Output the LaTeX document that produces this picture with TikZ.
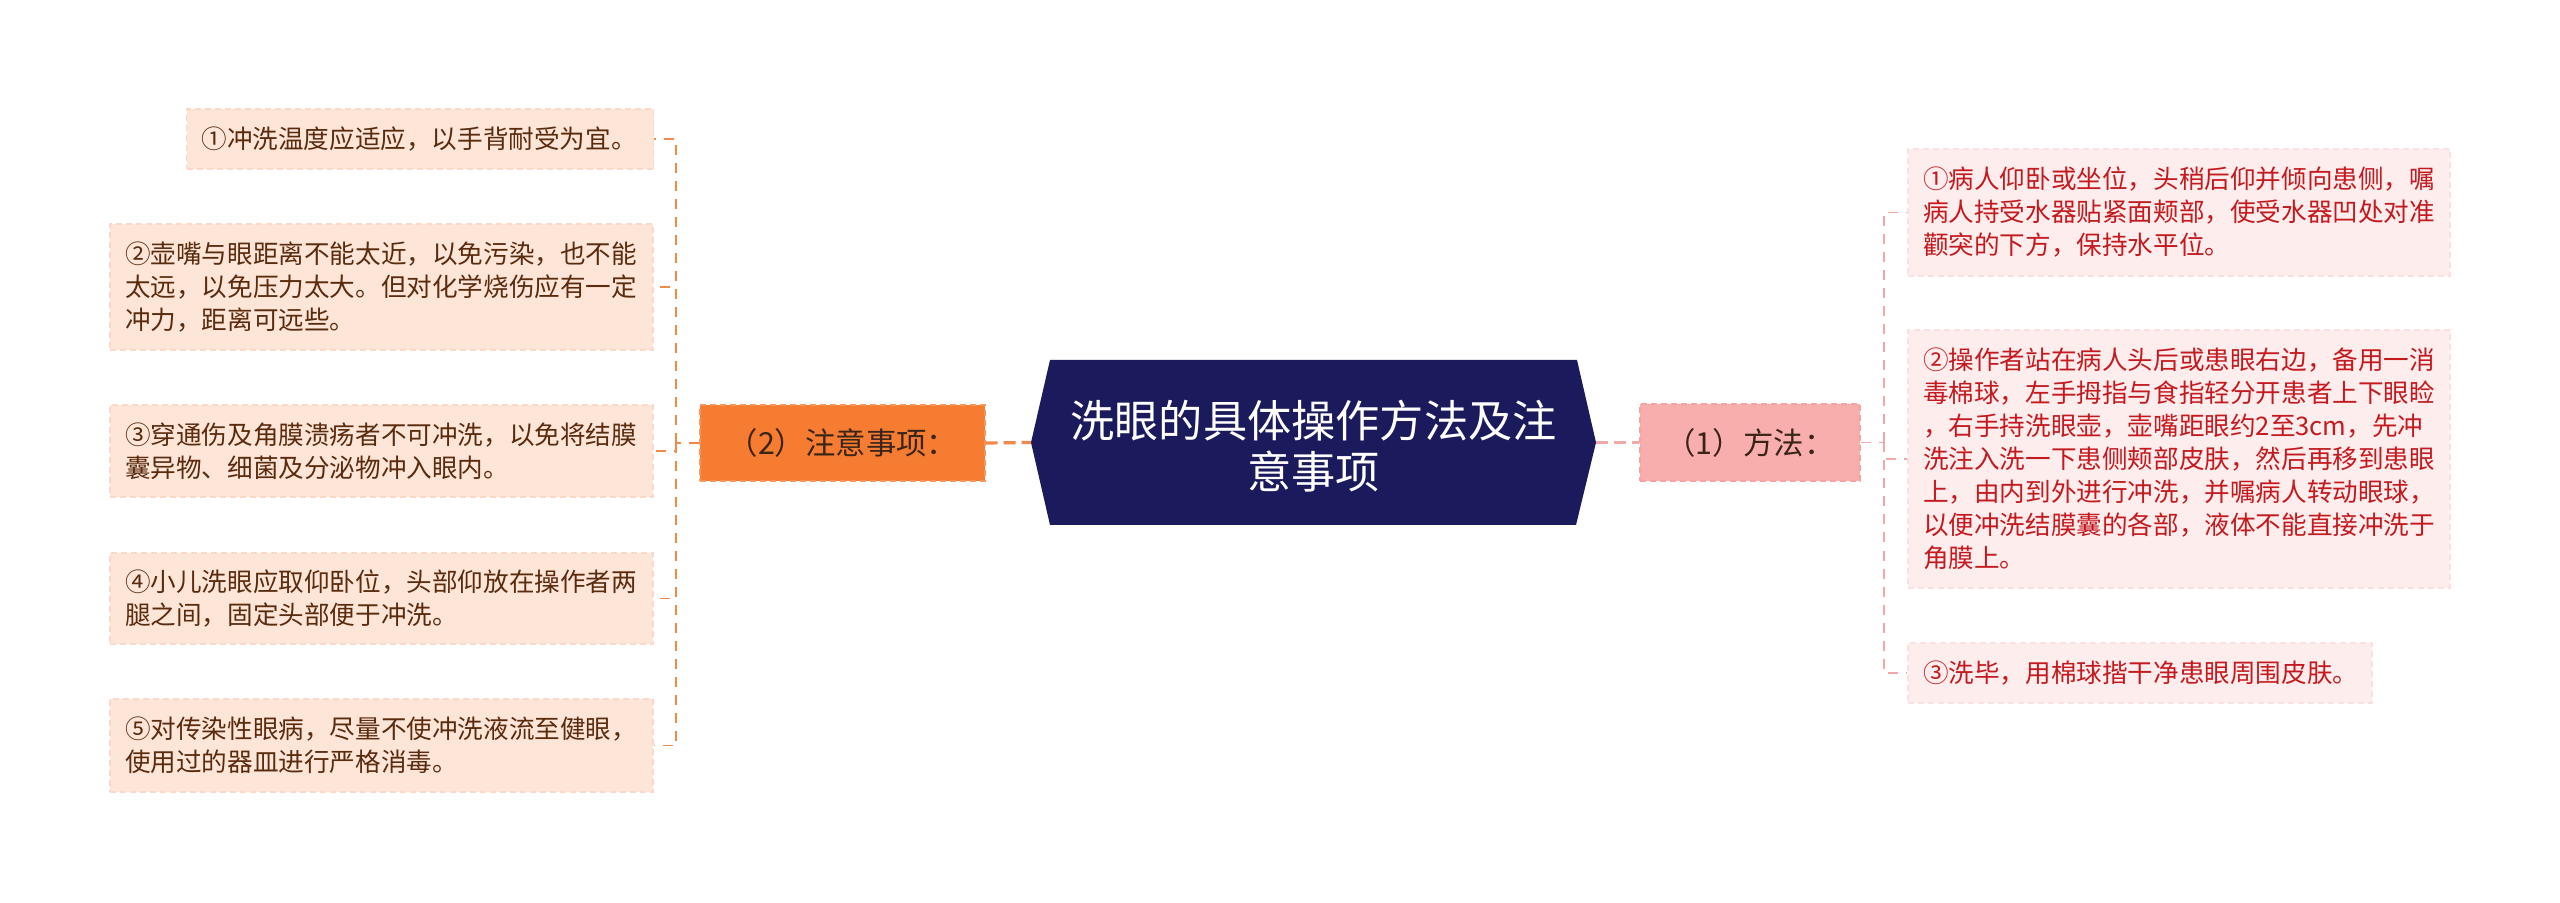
\documentclass[tikz,border=0pt]{standalone}
\usepackage{fontspec}
\setmainfont{Noto Sans CJK SC}
\definecolor{lfill}{HTML}{FDE5D8}
\definecolor{lborder}{HTML}{FAD9C8}
\definecolor{ltext}{HTML}{5B2B0E}
\definecolor{rfill}{HTML}{FDEDED}
\definecolor{rborder}{HTML}{FAE0E0}
\definecolor{rtext}{HTML}{C41A1F}
\definecolor{orangec}{HTML}{F57C30}
\definecolor{orangeb}{HTML}{F7955A}
\definecolor{pinkc}{HTML}{F9AEAE}
\definecolor{pinkb}{HTML}{F7A2A2}
\definecolor{navy}{HTML}{1B1A5C}
\definecolor{lline}{HTML}{F08A4B}
\definecolor{rline}{HTML}{F2A7A8}
\definecolor{btext}{HTML}{3A2418}
\begin{document}
\begin{tikzpicture}[x=0.5pt,y=-0.5pt,
  box/.style={rectangle, inner xsep=7.5pt, inner ysep=0pt, align=left,
    font=\fontsize{12.8pt}{16.5pt}\selectfont, dash pattern=on 3pt off 2pt, line width=0.6pt},
  lbox/.style={box, fill=lfill, draw=lborder, text=ltext},
  rbox/.style={box, fill=rfill, draw=rborder, text=rtext},
  branch/.style={rectangle, inner sep=0pt, align=center,
    font=\fontsize{15.2pt}{18pt}\selectfont, dash pattern=on 3pt off 2pt, line width=0.6pt, text=btext},
  lconn/.style={draw=lline, line width=0.75pt, dash pattern=on 5pt off 4pt},
  rconn/.style={draw=rline, line width=0.75pt, dash pattern=on 5pt off 4pt},
  lthick/.style={draw=lline, line width=1.6pt, dash pattern=on 6pt off 3pt},
  rthick/.style={draw=rline, line width=1.6pt, dash pattern=on 6pt off 3pt}]
\fill[white] (0,0) rectangle (2560,903);
\useasboundingbox (0,0) rectangle (2560,903);

% left boxes
\node[lbox, text width=218.5pt, minimum height=30pt] (L1) at (420,139) {①冲洗温度应适应，以手背耐受为宜。};
\node[lbox, text width=256.5pt, minimum height=63pt] (L2) at (381.5,287) {②壶嘴与眼距离不能太近，以免污染，也不能\\太远，以免压力太大。但对化学烧伤应有一定\\冲力，距离可远些。};
\node[lbox, text width=256.5pt, minimum height=46pt] (L3) at (381.5,451) {③穿通伤及角膜溃疡者不可冲洗，以免将结膜\\囊异物、细菌及分泌物冲入眼内。};
\node[lbox, text width=256.5pt, minimum height=45.5pt] (L4) at (381.5,598.5) {④小儿洗眼应取仰卧位，头部仰放在操作者两\\腿之间，固定头部便于冲洗。};
\node[lbox, text width=256.5pt, minimum height=46.5pt] (L5) at (381.5,745.5) {⑤对传染性眼病，尽量不使冲洗液流至健眼，\\使用过的器皿进行严格消毒。};

% right boxes
\node[rbox, text width=256pt, minimum height=63.5pt] (R1) at (2179,212.5) {①病人仰卧或坐位，头稍后仰并倾向患侧，嘱\\病人持受水器贴紧面颊部，使受水器凹处对准\\颧突的下方，保持水平位。};
\node[rbox, text width=256pt, minimum height=129pt] (R2) at (2179,459) {②操作者站在病人头后或患眼右边，备用一消\\毒棉球，左手拇指与食指轻分开患者上下眼睑\\，右手持洗眼壶，壶嘴距眼约2至3cm，先冲\\洗注入洗一下患侧颊部皮肤，然后再移到患眼\\上，由内到外进行冲洗，并嘱病人转动眼球，\\以便冲洗结膜囊的各部，液体不能直接冲洗于\\角膜上。};
\node[rbox, text width=217pt, minimum height=30pt] (R3) at (2140,673) {③洗毕，用棉球揩干净患眼周围皮肤。};

% center
\coordinate (cw) at (1031,442.5);
\coordinate (ce) at (1596,442.5);
\fill[navy] (cw) -- (1050,360) -- (1577,360) -- (ce) -- (1576,525) -- (1050,525) -- cycle;
\node[text=white, align=center, font=\fontsize{22.1pt}{25.5pt}\selectfont] (C) at (1313.5,446) {洗眼的具体操作方法及注\\意事项};

% branches
\node[branch, fill=orangec, draw=orangeb, minimum width=142.5pt, minimum height=38pt] (O) at (842.5,443) {（2）注意事项：};
\node[branch, fill=pinkc, draw=pinkb, minimum width=110pt, minimum height=38.5pt] (P) at (1750,442.5) {（1）方法：};

% connectors left
\coordinate (lj) at (676,443);
\draw[lthick] (O.east) -- (cw);
\draw[lconn] (O.west) -- (lj);
\foreach \n in {L1,L2,L3,L4,L5} \draw[lconn] (lj) |- (\n.east);

% connectors right
\coordinate (rj) at (1884,442.5);
\draw[rthick] (ce) -- (P.west);
\draw[rconn] (P.east) -- (rj);
\foreach \n in {R1,R2,R3} \draw[rconn] (rj) |- (\n.west);
\end{tikzpicture}
\end{document}
